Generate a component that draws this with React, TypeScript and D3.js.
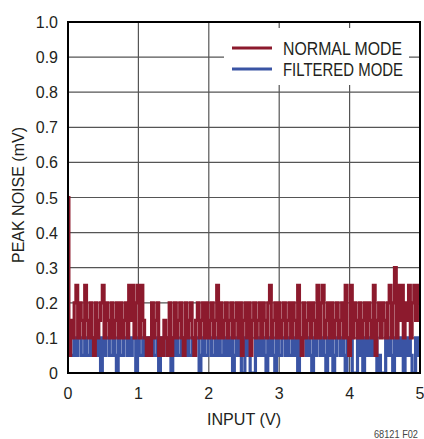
import React from "react";
import * as d3 from "d3";

const X_STEP = 0.025; // V per sample
const UNIT = 0.05; // mV per level

// Normal mode peak noise, in 0.05 mV levels (sample every 0.025 V)
const normalLevels = [
  10, 1, 3, 2, 4, 5, 2, 4, 3, 2,
  5, 3, 2, 4, 2, 1, 4, 2, 3, 4,
  5, 2, 4, 3, 2, 4, 2, 3, 4, 2,
  4, 2, 3, 4, 2, 5, 3, 5, 2, 4,
  5, 2, 5, 3, 2, 1, 2, 1, 4, 2,
  3, 4, 1, 2, 1, 3, 2, 1, 4, 1,
  2, 4, 2, 3, 4, 2, 1, 4, 2, 3,
  4, 2, 1, 3, 4, 2, 3, 4, 2, 4,
  2, 3, 4, 2, 3, 5, 2, 4, 2, 3,
  4, 2, 3, 4, 2, 3, 4, 2, 4, 1,
  3, 4, 2, 4, 1, 3, 4, 2, 3, 4,
  2, 4, 3, 2, 4, 5, 2, 3, 4, 2,
  4, 2, 3, 4, 2, 3, 4, 2, 4, 3,
  2, 5, 2, 1, 4, 2, 3, 4, 2, 4,
  3, 2, 5, 2, 4, 5, 2, 3, 4, 2,
  4, 2, 3, 4, 2, 3, 4, 2, 5, 2,
  1, 5, 2, 4, 3, 2, 4, 2, 3, 4,
  2, 4, 3, 2, 5, 1, 3, 4, 2, 4,
  3, 2, 4, 5, 2, 4, 6, 2, 5, 3,
  5, 2, 4, 3, 5, 2, 4, 5, 3, 5,
  4,
];

// Filtered mode peak noise, in 0.05 mV levels
const filteredLevels = [
  1, 2, 1, 1, 2, 1, 2, 2, 1, 1,
  2, 1, 1, 2, 1, 2, 2, 1, 2, 0,
  2, 1, 2, 2, 1, 1, 2, 1, 0, 2,
  1, 1, 2, 2, 1, 2, 1, 2, 2, 0,
  2, 1, 1, 2, 1, 1, 2, 1, 2, 1,
  1, 2, 0, 2, 1, 2, 2, 1, 1, 0,
  2, 1, 2, 1, 1, 2, 2, 1, 2, 1,
  1, 2, 1, 2, 2, 0, 1, 2, 1, 1,
  2, 2, 1, 1, 2, 1, 2, 1, 1, 2,
  1, 2, 1, 2, 0, 1, 2, 1, 2, 0,
  0, 2, 1, 2, 0, 0, 0, 2, 1, 2,
  1, 2, 1, 0, 2, 1, 2, 1, 0, 2,
  1, 1, 2, 2, 1, 2, 1, 1, 2, 1,
  2, 0, 2, 1, 2, 2, 1, 2, 1, 0,
  2, 1, 2, 2, 1, 2, 1, 0, 2, 1,
  2, 0, 1, 2, 2, 1, 2, 1, 0, 2,
  1, 2, 0, 0, 0, 2, 1, 2, 0, 2,
  1, 2, 1, 2, 1, 2, 0, 1, 0, 0,
  0, 2, 1, 2, 1, 0, 2, 1, 2, 1,
  2, 0, 2, 1, 2, 1, 0, 0, 2, 1,
  2,
];

const xTicks = [0, 1, 2, 3, 4, 5];
const yTicks = [0, 0.1, 0.2, 0.3, 0.4, 0.5, 0.6, 0.7, 0.8, 0.9, 1.0];
const yTickLabels = ["0", "0.1", "0.2", "0.3", "0.4", "0.5", "0.6", "0.7", "0.8", "0.9", "1.0"];

const seriesNames = ["NORMAL MODE", "FILTERED MODE"];
const seriesColors = ["#8c1a2d", "#3a54a4"];

const FONT = "'Liberation Sans', Arial, sans-serif";

export default function App() {
  const left = 68, right = 420, top = 22, bottom = 373;
  const x = d3.scaleLinear().domain([0, 5]).range([left, right]);
  const y = d3.scaleLinear().domain([0, 1]).range([bottom, top]);

  const toPts = (arr: number[]) => arr.map((v, i) => [i * X_STEP, v * UNIT] as [number, number]);
  const line = d3.line<[number, number]>().x(d => x(d[0])).y(d => y(d[1])).curve(d3.curveStep);

  const normalPath = line(toPts(normalLevels)) || "";
  const filteredPath = line(toPts(filteredLevels)) || "";

  return (
    <svg width={424} height={439} style={{ position: "absolute", left: 0, top: 0, background: "#fff" }}>
      <defs>
        <clipPath id="plotclip">
          <rect x={left} y={top} width={right - left} height={bottom - top} />
        </clipPath>
      </defs>
      {/* grid */}
      {yTicks.map((t, i) => (
        <line key={"gy" + i} x1={left} x2={right} y1={y(t)} y2={y(t)} stroke="#555" strokeWidth={1.2} />
      ))}
      {xTicks.map((t, i) => (
        <line key={"gx" + i} x1={x(t)} x2={x(t)} y1={top} y2={bottom} stroke="#555" strokeWidth={1.2} />
      ))}
      {/* legend background */}
      <rect x={224} y={28} width={185} height={57} fill="#fff" />
      {/* data */}
      <g clipPath="url(#plotclip)">
        <path d={filteredPath} fill="none" stroke={seriesColors[1]} strokeWidth={3.2} strokeLinejoin="miter" />
        <path d={normalPath} fill="none" stroke={seriesColors[0]} strokeWidth={3.2} strokeLinejoin="miter" />
      </g>
      {/* frame */}
      <rect x={left} y={top} width={right - left} height={bottom - top} fill="none" stroke="#000" strokeWidth={2} />
      {/* legend */}
      {seriesNames.map((name, i) => (
        <g key={name}>
          <line x1={232} x2={272} y1={48 + i * 21} y2={48 + i * 21} stroke={seriesColors[i]} strokeWidth={3} />
          <text transform={`translate(283,${48 + i * 21 + 7}) scale(${i === 0 ? 0.88 : 0.83},1)`}
            fontFamily={FONT} fontSize={18} fill="#231f20">{name}</text>
        </g>
      ))}
      {/* y tick labels */}
      {yTicks.map((t, i) => (
        <text key={"yl" + i} x={58} y={y(t) + 6} textAnchor="end" fontFamily={FONT} fontSize={16} fill="#231f20">
          {yTickLabels[i]}
        </text>
      ))}
      {/* x tick labels */}
      {xTicks.map((t, i) => (
        <text key={"xl" + i} x={x(t)} y={399} textAnchor="middle" fontFamily={FONT} fontSize={16} fill="#231f20">
          {String(t)}
        </text>
      ))}
      {/* axis titles */}
      <text x={244} y={425} textAnchor="middle" fontFamily={FONT} fontSize={17} fill="#231f20"
        textLength={74} lengthAdjust="spacingAndGlyphs">INPUT (V)</text>
      <text transform="translate(24,195) rotate(-90)" textAnchor="middle" fontFamily={FONT} fontSize={17} fill="#231f20"
        textLength={136} lengthAdjust="spacingAndGlyphs">PEAK NOISE (mV)</text>
      <text x={418} y={438} textAnchor="end" fontFamily={FONT} fontSize={10} fill="#444"
        textLength={44} lengthAdjust="spacingAndGlyphs">68121 F02</text>
    </svg>
  );
}
